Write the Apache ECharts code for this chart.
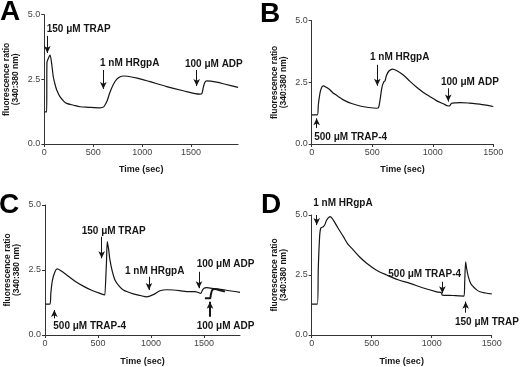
<!DOCTYPE html>
<html>
<head>
<meta charset="utf-8">
<script src="https://cdn.jsdelivr.net/npm/echarts@6/dist/echarts.min.js"></script>
<style>
  html, body { margin: 0; padding: 0; background: #fff; }
  #chart { width: 520px; height: 367px; }
</style>
</head>
<body>
<div id="chart"></div>
<script>
// panel A trace (time s, 340:380 ratio)
const timeA = [0, 24, 27, 40, 58, 72, 92, 110, 127, 160, 200, 229, 300, 365, 450, 569, 590, 610, 640, 671, 705, 739, 775, 807, 850, 950, 1080, 1250, 1420, 1590, 1610, 1625, 1640, 1660, 1700, 1761, 1850, 1980]
const ratioA = [1.24, 1.24, 3.15, 3.3, 3.44, 3.2, 2.6, 2.3, 2.09, 1.83, 1.65, 1.57, 1.5, 1.44, 1.42, 1.40, 1.41, 1.45, 1.65, 2.0, 2.3, 2.5, 2.6, 2.63, 2.62, 2.55, 2.41, 2.22, 2.06, 1.93, 1.95, 2.2, 2.38, 2.44, 2.43, 2.39, 2.31, 2.19]
// panel B
const timeB = [0, 46, 55, 70, 83, 95, 120, 150, 178, 190, 220, 261, 330, 399, 470, 536, 550, 565, 580, 597, 605, 619, 640, 669, 700, 757, 810, 867, 920, 977, 1030, 1087, 1128, 1140, 1156, 1190, 1225, 1300, 1362, 1440, 1500]
const ratioB = [1.18, 1.18, 1.6, 2.1, 2.30, 2.36, 2.3, 2.2, 2.06, 2.03, 1.92, 1.79, 1.64, 1.54, 1.48, 1.45, 1.46, 1.8, 2.3, 2.53, 2.55, 2.80, 2.97, 3.04, 2.98, 2.80, 2.55, 2.30, 2.1, 1.92, 1.76, 1.63, 1.54, 1.55, 1.65, 1.67, 1.68, 1.66, 1.63, 1.58, 1.52]
// panel C, main trace and overlaid ADP trace
const timeC = [0, 47, 55, 70, 94, 116, 150, 205, 280, 361, 440, 519, 566, 572, 580, 588, 600, 613, 635, 660, 700, 739, 833, 900, 959, 1020, 1085, 1150, 1211, 1280, 1337, 1415, 1450, 1469, 1485, 1500, 1525, 1600, 1700, 1840]
const ratioC = [1.19, 1.19, 1.6, 2.1, 2.43, 2.54, 2.47, 2.31, 2.08, 1.88, 1.72, 1.60, 1.54, 1.54, 2.8, 3.59, 3.3, 2.88, 2.45, 2.12, 1.88, 1.73, 1.58, 1.52, 1.47, 1.55, 1.70, 1.74, 1.73, 1.70, 1.67, 1.67, 1.63, 1.60, 1.72, 1.80, 1.82, 1.78, 1.73, 1.64]
const timeC2 = [1509, 1557, 1565, 1578, 1604, 1650, 1698]
const ratioC2 = [1.41, 1.41, 1.55, 1.73, 1.77, 1.72, 1.67]
// panel D
const timeD = [0, 47, 55, 65, 75, 97, 110, 125, 153, 180, 220, 264, 300, 347, 400, 458, 540, 625, 720, 819, 930, 1042, 1080, 1088, 1150, 1200, 1269, 1275, 1283, 1290, 1305, 1325, 1347, 1375, 1403, 1450, 1500]
const ratioD = [1.29, 1.29, 2.8, 4.0, 4.45, 4.51, 4.6, 4.79, 4.93, 4.79, 4.45, 4.10, 3.80, 3.54, 3.25, 2.99, 2.70, 2.50, 2.30, 2.15, 1.96, 1.80, 1.76, 1.66, 1.65, 1.64, 1.62, 2.2, 3.05, 2.8, 2.43, 2.15, 2.01, 1.88, 1.80, 1.75, 1.71]

// additions: [label, label time, label ratio, arrow time, arrow start ratio, arrow end ratio]
const notesA = [
  ['150 μM TRAP', 25, 4.45, 31, 4.18, 3.52],
  ['1 nM HRgpA', 569, 3.12, 603, 2.86, 2.13],
  ['100 μM ADP', 1437, 3.07, 1557, 2.86, 2.24],
]
const notesB = [
  ['500 μM TRAP-4', 21, 0.27, 41, 0.65, 1.04],
  ['1 nM HRgpA', 481, 3.52, 542, 3.21, 2.36],
  ['100 μM ADP', 1068, 2.5, 1128, 2.26, 1.72],
]
const notesC = [
  ['500 μM TRAP-4', 78, 0.33, 88, 0.64, 0.96],
  ['150 μM TRAP', 346, 3.98, 535, 3.78, 2.95],
  ['1 nM HRgpA', 755, 2.47, 981, 2.24, 1.73],
  ['100 μM ADP', 1431, 2.73, 1453, 2.43, 1.80],
  ['100 μM ADP', 1431, 0.33, 1557, 0.70, 1.28],
]
// the HRgpA label in D sits above the axis top, so it hangs from 5.0
const notesD = [
  ['1 nM HRgpA', 13, 5.0, 42, 5.0, 4.58, -12],
  ['500 μM TRAP-4', 638, 2.55, 1089, 2.22, 1.74],
  ['150 μM TRAP', 1194, 0.53, 1283, 0.93, 1.39],
]

const xTicks = [0, 500, 1000, 1500]
const xMax = [1980, 1500, 1840, 1500]

const FONT = 'Liberation Sans, Arial, sans-serif'
const INK = '#151515'

const grids = [
  { left: 44.3, top: 14.7, width: 193.8, height: 129.3 },
  { left: 311.7, top: 20.7, width: 181.6, height: 123.3 },
  { left: 45, top: 205, width: 195, height: 130 },
  { left: 311.7, top: 215, width: 180, height: 120 },
]
const nameGaps = [21, 21, 22, 22]

const zip = (t, v) => t.map((x, i) => [x, v[i]])

function notesSeries(notes, idx, thickLast) {
  return {
    type: 'line', xAxisIndex: idx, yAxisIndex: idx, data: [], silent: true,
    markLine: {
      silent: true, animation: false,
      symbol: ['none', 'arrow'], symbolSize: [5, 7],
      label: { show: false },
      lineStyle: { color: INK, width: 1, type: 'solid' },
      data: notes.map((n, i) => [
        { coord: [n[3], n[4]] },
        { coord: [n[3], n[5]] },
      ].map(p => (thickLast && i === notes.length - 1 ? { ...p, lineStyle: { width: 2 } } : p))),
    },
    markPoint: {
      silent: true, animation: false, symbol: 'circle', symbolSize: 0,
      label: {
        show: true, position: 'inside', align: 'left', formatter: p => p.name,
        fontFamily: FONT, fontWeight: 'bold', fontSize: 10, color: INK,
      },
      data: notes.map(n => ({
        name: n[0], coord: [n[1], n[2]],
        label: n[6] ? { offset: [0, n[6]] } : undefined,
      })),
    },
  }
}

const chart = echarts.init(document.getElementById('chart'), null, { renderer: 'canvas' })

chart.setOption({
  backgroundColor: '#fff',
  animation: false,
  textStyle: { fontFamily: FONT },
  title: [
    { text: 'A', left: 0, top: -2 },
    { text: 'B', left: 260, top: 0 },
    { text: 'C', left: -1, top: 191 },
    { text: 'D', left: 261, top: 191 },
  ].map(t => ({ ...t, padding: 0, textStyle: { fontFamily: FONT, fontWeight: 'bold', fontSize: 28, color: '#000' } })),
  grid: grids,
  xAxis: grids.map((g, i) => ({
    gridIndex: i, type: 'value', min: 0, max: xMax[i],
    name: 'Time (sec)', nameLocation: 'middle', nameGap: nameGaps[i],
    nameTextStyle: { fontFamily: FONT, fontWeight: 'bold', fontSize: 9, color: INK },
    axisLine: { onZero: false, lineStyle: { color: '#333', width: 1 } },
    axisTick: { customValues: xTicks, length: 3, lineStyle: { color: '#333' } },
    axisLabel: { customValues: xTicks, fontSize: 9, color: '#444', margin: 4, formatter: v => String(v) },
    splitLine: { show: false },
  })),
  yAxis: grids.map((g, i) => ({
    gridIndex: i, type: 'value', min: 0, max: 5, interval: 2.5,
    name: 'fluorescence ratio\n(340:380 nm)', nameLocation: 'middle', nameRotate: 90, nameGap: 24,
    nameTextStyle: { fontFamily: FONT, fontWeight: 'bold', fontSize: 8.5, color: INK, lineHeight: 9 },
    axisLine: { show: true, onZero: false, lineStyle: { color: '#333', width: 1 } },
    axisTick: { show: true, length: 3, lineStyle: { color: '#333' } },
    axisLabel: { fontSize: 9, color: '#444', margin: 4, formatter: v => v.toFixed(1) },
    splitLine: { show: false },
  })),
  series: [
    { data: zip(timeA, ratioA), idx: 0 },
    { data: zip(timeB, ratioB), idx: 1 },
    { data: zip(timeC, ratioC), idx: 2 },
    { data: zip(timeC2, ratioC2), idx: 2, w: 2 },
    { data: zip(timeD, ratioD), idx: 3 },
  ].map(s => ({
    type: 'line', xAxisIndex: s.idx, yAxisIndex: s.idx, data: s.data,
    showSymbol: false, smooth: 0.3, silent: true,
    lineStyle: { color: INK, width: s.w || 1.2 },
  })).concat([
    notesSeries(notesA, 0),
    notesSeries(notesB, 1),
    notesSeries(notesC, 2, true),
    notesSeries(notesD, 3),
  ]),
})
</script>
</body>
</html>
